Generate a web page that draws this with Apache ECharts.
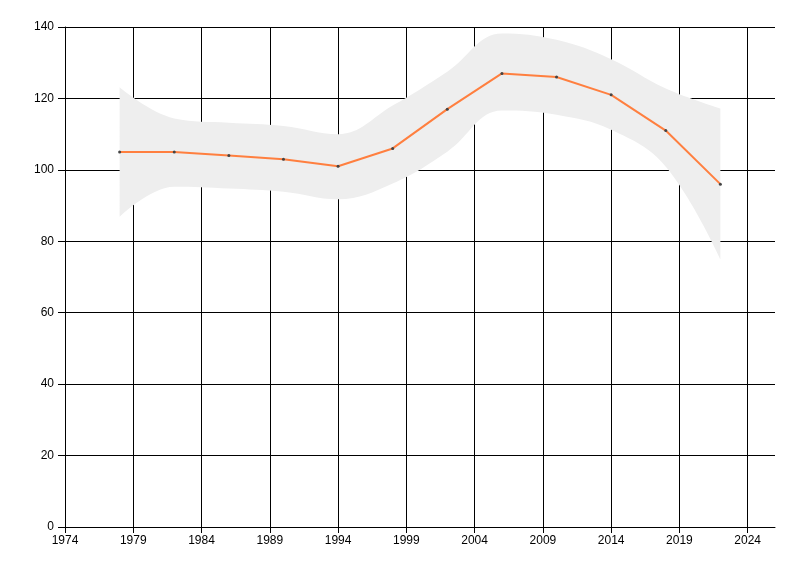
<!DOCTYPE html>
<html><head><meta charset="utf-8">
<script src="https://cdn.jsdelivr.net/npm/echarts@6/dist/echarts.min.js"></script>
<style>html,body{margin:0;padding:0;background:#fff}#c{width:800px;height:576px}</style>
</head><body><div id="c"></div>
<script>
const years = [1978,1982,1986,1990,1994,1998,2002,2006,2010,2014,2018,2022];
const values = [105,105,104,103,101,106,117,127,126,121,111,96];
const upper = [123.1,114.4,113.2,112.3,110.0,118.0,127.5,138.2,136.4,131.0,122.8,117.2];
const lower = [86.9,95.3,94.8,93.9,91.8,96.2,105.1,116.6,115.4,111.2,100.9,75.0];

const chart = echarts.init(document.getElementById('c'));
const font = {fontFamily: 'Liberation Sans', fontSize: 12, color: '#000'};
chart.setOption({
  animation: false,
  grid: {left: 65, right: 25, top: 27, bottom: 49},
  xAxis: {
    type: 'value', min: 1974, max: 2026, interval: 5,
    axisLine: {show: true, lineStyle: {color: '#000', width: 1}},
    axisTick: {show: true, length: 6, lineStyle: {color: '#000'}},
    axisLabel: Object.assign({margin: 8, showMaxLabel: false,
      formatter: v => (v === 2026 ? '' : String(v))}, font),
    splitLine: {show: true, showMaxLine: false, lineStyle: {color: '#000', width: 1}}
  },
  yAxis: {
    type: 'value', min: 0, max: 140, interval: 20,
    axisLine: {show: true, lineStyle: {color: '#000', width: 1}},
    axisTick: {show: true, length: 7, lineStyle: {color: '#000'}},
    axisLabel: Object.assign({margin: 11}, font),
    splitLine: {show: true, lineStyle: {color: '#000', width: 1}}
  },
  series: [
    {
      type: 'line', stack: 'band', smooth: 0.4, symbol: 'none',
      encode: {x: 1, y: 0},
      data: years.map((y, i) => [lower[i], y]),
      lineStyle: {opacity: 0}, areaStyle: {opacity: 0}, z: 2
    },
    {
      type: 'line', stack: 'band', smooth: 0.4, symbol: 'none',
      encode: {x: 1, y: 0},
      data: years.map((y, i) => [upper[i] - lower[i], y]),
      lineStyle: {opacity: 0}, areaStyle: {color: '#eeeeee', opacity: 1}, z: 2
    },
    {
      type: 'line', symbol: 'circle', symbolSize: 3,
      data: years.map((y, i) => [y, values[i]]),
      lineStyle: {color: '#ff7f3f', width: 2},
      itemStyle: {color: '#444'}, z: 3
    }
  ]
});
</script></body></html>
